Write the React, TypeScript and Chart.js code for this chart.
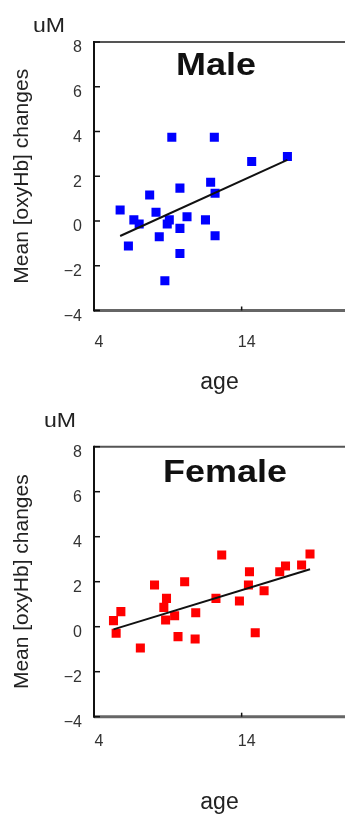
import React, { useEffect, useRef } from "react";
import { Chart, registerables } from "chart.js";

Chart.register(...registerables);

// ---- data ----
const maleAge = [9.27, 12.15, 7.77, 9.82, 11.9, 12.2, 5.77, 8.2, 6.7, 7.06, 9.1, 8.96, 10.3, 11.55, 9.82, 8.42, 12.2, 6.33, 9.82, 8.8, 14.68, 17.1];
const maleValue = [3.74, 3.74, 1.16, 1.47, 1.73, 1.24, 0.49, 0.39, 0.05, -0.13, 0.05, -0.13, 0.19, 0.05, -0.33, -0.7, -0.66, -1.12, -1.45, -2.67, 2.66, 2.88];
const maleFitAge = [5.77, 17.1];
const maleFitValue = [-0.67, 2.73];

const femaleAge = [12.65, 8.1, 10.14, 8.91, 8.73, 5.82, 5.32, 5.5, 8.85, 9.46, 10.89, 12.26, 9.69, 10.85, 7.14, 14.53, 14.46, 15.52, 13.85, 14.92, 16.58, 16.97, 18.06, 18.63];
const femaleValue = [3.19, 1.85, 2.0, 1.26, 0.86, 0.67, 0.27, -0.29, 0.3, 0.49, 0.62, 1.26, -0.44, -0.55, -0.95, 2.44, 1.85, 1.6, 1.14, -0.27, 2.44, 2.7, 2.74, 3.23];
const femaleFitAge = [5.32, 18.63];
const femaleFitValue = [-0.12, 2.55];

const xTicks = [4, 14];
const yTicks = [-4, -2, 0, 2, 4, 6, 8];
const xMin = 4;
const xMax = 21;
const yMin = -4;
const yMax = 8;
const xTitle = "age";
const yTitle = "Mean [oxyHb] changes";
const unitLabel = "uM";

const FONT = 'Arial, "Liberation Sans", Helvetica, sans-serif';
const W = 345;
const H = 407;

type Panel = {
  title: string;
  color: string;
  ages: number[];
  values: number[];
  fitAges: number[];
  fitValues: number[];
  areaTop: number;
  areaBottom: number;
  xTickPad: number;
  xTitlePad: number;
  unitX: number;
  unitBase: number;
  titleX: number;
  titleBase: number;
};

const panels: Panel[] = [
  {
    title: "Male",
    color: "#0000ff",
    ages: maleAge,
    values: maleValue,
    fitAges: maleFitAge,
    fitValues: maleFitValue,
    areaTop: 42,
    areaBottom: 310.5,
    xTickPad: 22,
    xTitlePad: 11,
    unitX: 49,
    unitBase: 32,
    titleX: 216,
    titleBase: 75,
  },
  {
    title: "Female",
    color: "#ff0000",
    ages: femaleAge,
    values: femaleValue,
    fitAges: femaleFitAge,
    fitValues: femaleFitValue,
    areaTop: 39.7,
    areaBottom: 309.7,
    xTickPad: 15,
    xTitlePad: -2,
    unitX: 60,
    unitBase: 20,
    titleX: 225,
    titleBase: 75,
  },
];

function makeFramePlugin(p: Panel) {
  return {
    id: "frameAndLabels",
    afterDraw(chart: any) {
      const { ctx, chartArea: a, scales } = chart;
      const x = scales.x;
      const y = scales.y;
      ctx.save();
      // top border
      ctx.strokeStyle = "#555";
      ctx.lineWidth = 2;
      ctx.beginPath();
      ctx.moveTo(a.left, a.top);
      ctx.lineTo(a.right, a.top);
      ctx.stroke();
      // bottom axis
      ctx.strokeStyle = "#666";
      ctx.lineWidth = 3;
      ctx.beginPath();
      ctx.moveTo(a.left, a.bottom);
      ctx.lineTo(a.right, a.bottom);
      ctx.stroke();
      // left axis
      ctx.strokeStyle = "#111";
      ctx.lineWidth = 2;
      ctx.beginPath();
      ctx.moveTo(a.left, a.top - 1);
      ctx.lineTo(a.left, a.bottom + 1);
      ctx.stroke();
      // inward y ticks
      ctx.lineWidth = 1.5;
      for (const v of yTicks) {
        const py = y.getPixelForValue(v);
        ctx.beginPath();
        ctx.moveTo(a.left, py);
        ctx.lineTo(a.left + 6, py);
        ctx.stroke();
      }
      // x ticks
      for (const v of xTicks) {
        const px = x.getPixelForValue(v);
        ctx.beginPath();
        ctx.moveTo(px, a.bottom);
        ctx.lineTo(px, a.bottom - 4);
        ctx.stroke();
      }
      // panel title
      ctx.fillStyle = "#111";
      ctx.textAlign = "center";
      ctx.textBaseline = "alphabetic";
      ctx.save();
      ctx.translate(p.titleX, p.titleBase);
      ctx.scale(1.16, 1);
      ctx.font = `bold 31px ${FONT}`;
      ctx.fillText(p.title, 0, 0);
      ctx.restore();
      // unit label
      ctx.save();
      ctx.translate(p.unitX, p.unitBase);
      ctx.scale(1.1, 1);
      ctx.font = `21px ${FONT}`;
      ctx.fillStyle = "#222";
      ctx.fillText(unitLabel, 0, 0);
      ctx.restore();
      ctx.restore();
    },
  };
}

function PanelChart({ p }: { p: Panel }) {
  const ref = useRef<HTMLCanvasElement | null>(null);
  useEffect(() => {
    if (!ref.current) return;
    const points = p.ages.map((a, i) => ({ x: a, y: p.values[i] }));
    const fit = p.fitAges.map((a, i) => ({ x: a, y: p.fitValues[i] }));
    const chart = new Chart(ref.current, {
      type: "scatter",
      data: {
        datasets: [
          {
            data: fit,
            showLine: true,
            borderColor: "#111",
            borderWidth: 2,
            pointRadius: 0,
            fill: false,
          },
          {
            data: points,
            pointStyle: "rect",
            pointRadius: 6.4,
            backgroundColor: p.color,
            borderColor: p.color,
            borderWidth: 0,
          },
        ],
      },
      options: {
        responsive: false,
        animation: false,
        devicePixelRatio: 1,
        layout: { autoPadding: false, padding: { top: p.areaTop, right: 0, bottom: 0, left: 0 } },
        plugins: {
          legend: { display: false },
          tooltip: { enabled: false },
          title: { display: false },
        },
        scales: {
          x: {
            type: "linear",
            min: xMin,
            max: xMax,
            grid: { display: false, drawTicks: false },
            border: { display: false },
            afterBuildTicks: (s: any) => {
              s.ticks = xTicks.map((v) => ({ value: v }));
            },
            afterFit: (s: any) => {
              s.height = H - p.areaBottom;
              s.paddingLeft = 0;
              s.paddingRight = 0;
            },
            ticks: {
              padding: p.xTickPad,
              labelOffset: 5,
              color: "#333",
              font: { size: 16, family: FONT },
              maxRotation: 0,
              autoSkip: false,
            },
            title: {
              display: true,
              text: xTitle,
              color: "#222",
              font: { size: 23, family: FONT },
              padding: { top: 0, bottom: p.xTitlePad },
            },
          },
          y: {
            type: "linear",
            min: yMin,
            max: yMax,
            grid: { display: false, drawTicks: false },
            border: { display: false },
            afterBuildTicks: (s: any) => {
              s.ticks = yTicks.map((v) => ({ value: v }));
            },
            afterFit: (s: any) => {
              s.width = 94;
              s.paddingTop = 0;
              s.paddingBottom = 0;
            },
            ticks: {
              padding: 12,
              labelOffset: 6,
              color: "#333",
              font: { size: 16, family: FONT },
              callback: (v: any) => (Number(v) < 0 ? "\u2212" + Math.abs(Number(v)) : String(v)),
            },
            title: {
              display: true,
              text: yTitle,
              color: "#222",
              font: { size: 21, family: FONT },
              padding: { top: 10, bottom: 0 },
            },
          },
        },
      },
      plugins: [makeFramePlugin(p)],
    } as any);
    return () => chart.destroy();
  }, [p]);
  return (
    <div style={{ width: W, height: H, position: "relative" }}>
      <canvas ref={ref} width={W} height={H} style={{ display: "block", width: W, height: H }} />
    </div>
  );
}

export default function App() {
  return (
    <div style={{ position: "absolute", left: 0, top: 0, width: W, height: 2 * H, background: "#fff" }}>
      {panels.map((p) => (
        <PanelChart key={p.title} p={p} />
      ))}
    </div>
  );
}
